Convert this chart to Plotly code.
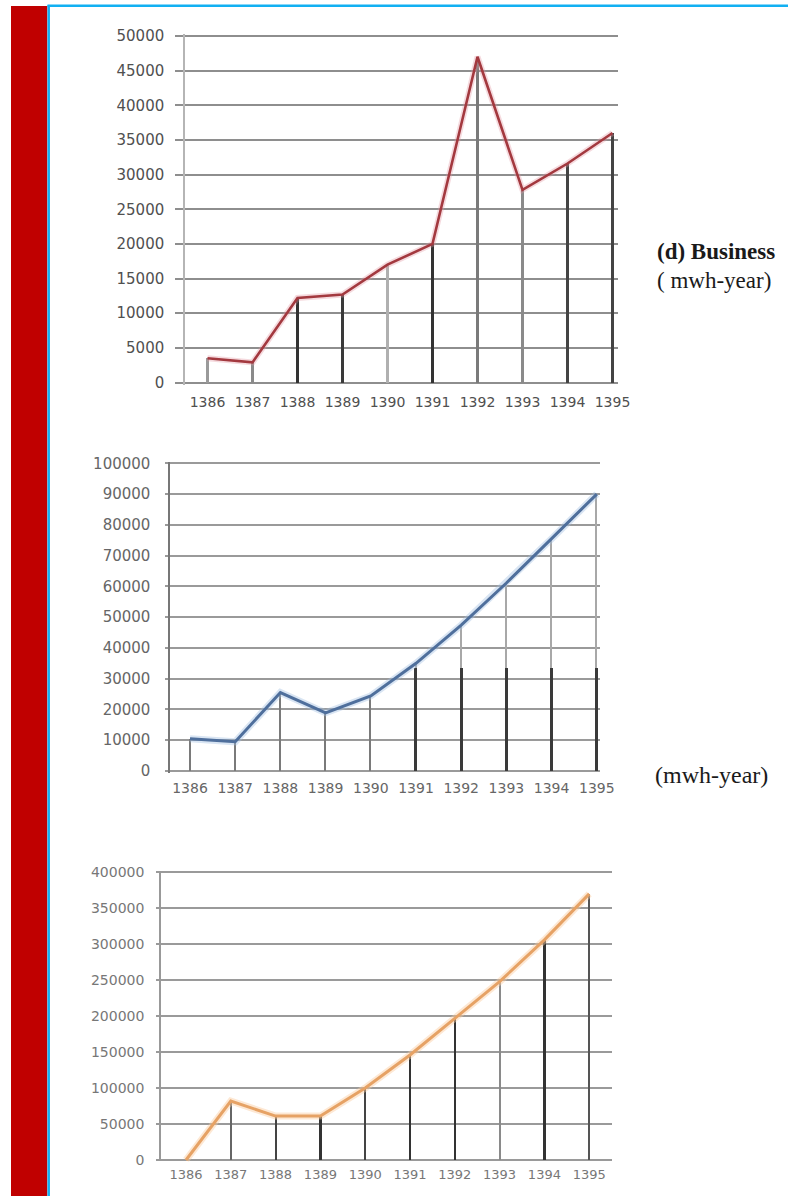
import plotly.graph_objects as go

# ---- data -------------------------------------------------------------
years = ["1386", "1387", "1388", "1389", "1390", "1391", "1392", "1393", "1394", "1395"]

business = [3500, 2900, 12200, 12700, 17000, 20000, 47000, 27800, 31600, 36000]
series_b = [10500, 9500, 25500, 18900, 24400, 35000, 47400, 61100, 75500, 90000]
series_c = [0, 82000, 61000, 61000, 100000, 146000, 197000, 248000, 306000, 370000]

ticks_business = list(range(0, 50001, 5000))
ticks_b = list(range(0, 100001, 10000))
ticks_c = list(range(0, 400001, 50000))

# lower, heavier part of the later stems in the middle panel
stem_split_b = 33500

# ---- page geometry ----------------------------------------------------
W, H = 788, 1196
idx = list(range(len(years)))


def xdom(first_px, step_px, lo, hi):
    return [(first_px + lo * step_px) / W, (first_px + hi * step_px) / W]


def ydom(zero_px, top_px, top_val, lo, hi):
    k = (zero_px - top_px) / top_val
    return [1 - (zero_px - lo * k) / H, 1 - (zero_px - hi * k) / H]


fig = go.Figure()

# ---- panel 1 : Business ----------------------------------------------
stem_cols_1 = ["#9a9a9a", "#8a8a8a", "#333333", "#3a3a3a", "#b0b0b0",
               "#333333", "#7a7a7a", "#8a8a8a", "#444444", "#444444"]
fig.add_trace(go.Bar(x=idx, y=business, width=0.045, marker=dict(color=stem_cols_1, line_width=0),
                     xaxis="x", yaxis="y", showlegend=False))
fig.add_trace(go.Scatter(x=idx, y=business, mode="lines", line=dict(color="rgba(225,150,160,0.35)", width=6),
                         xaxis="x", yaxis="y", showlegend=False, hoverinfo="skip"))
fig.add_trace(go.Scatter(x=idx, y=business, mode="lines", line=dict(color="#a3393f", width=2.6),
                         xaxis="x", yaxis="y", showlegend=False))

# ---- panel 2 -----------------------------------------------------------
stem_cols_2 = ["#7a7a7a"] * 5 + ["#a8a8a8"] * 5
fig.add_trace(go.Bar(x=idx, y=series_b, width=0.035, marker=dict(color=stem_cols_2, line_width=0),
                     xaxis="x2", yaxis="y2", showlegend=False))
late = [i for i, v in zip(idx, series_b) if v > stem_split_b]
fig.add_trace(go.Bar(x=late, y=[stem_split_b] * len(late), width=0.07,
                     marker=dict(color="#3a3a3a", line_width=0),
                     xaxis="x2", yaxis="y2", showlegend=False, hoverinfo="skip"))
fig.add_trace(go.Scatter(x=idx, y=series_b, mode="lines", line=dict(color="rgba(160,190,225,0.4)", width=7),
                         xaxis="x2", yaxis="y2", showlegend=False, hoverinfo="skip"))
fig.add_trace(go.Scatter(x=idx, y=series_b, mode="lines", line=dict(color="#4f6f9c", width=3),
                         xaxis="x2", yaxis="y2", showlegend=False))

# ---- panel 3 -----------------------------------------------------------
stem_cols_3 = ["#555555", "#666666", "#444444", "#333333", "#444444",
               "#333333", "#333333", "#8a8a8a", "#333333", "#555555"]
fig.add_trace(go.Bar(x=idx, y=series_c, width=0.05, marker=dict(color=stem_cols_3, line_width=0),
                     xaxis="x3", yaxis="y3", showlegend=False))
fig.add_trace(go.Scatter(x=idx, y=series_c, mode="lines", line=dict(color="rgba(250,205,160,0.45)", width=7),
                         xaxis="x3", yaxis="y3", showlegend=False, hoverinfo="skip"))
fig.add_trace(go.Scatter(x=idx, y=series_c, mode="lines", line=dict(color="#e6a265", width=3),
                         xaxis="x3", yaxis="y3", showlegend=False))


# ---- axes --------------------------------------------------------------
def x_axis(domain, rng, anchor, color, standoff, size):
    return dict(domain=domain, range=rng, anchor=anchor, tickmode="array", tickvals=idx, ticktext=years,
                showgrid=False, zeroline=False, showline=False, ticks="", automargin=False,
                tickfont=dict(family="DejaVu Sans", size=size, color=color),
                ticklabelstandoff=standoff, fixedrange=True)


def y_axis(domain, rng, anchor, vals, grid, axis_col, ticklen, color, standoff, size):
    return dict(domain=domain, range=rng, anchor=anchor, tickmode="array", tickvals=vals,
                ticktext=[str(v) for v in vals],
                showgrid=True, gridcolor=grid, gridwidth=1.5, zeroline=False,
                showline=True, linecolor=axis_col, linewidth=1.5, automargin=False,
                ticks="outside", ticklen=ticklen, tickcolor=grid, tickwidth=1.5,
                tickfont=dict(family="DejaVu Sans", size=size, color=color),
                ticklabelstandoff=standoff, fixedrange=True)


# panel 1
r1x = [-0.5, 9.13]
r1y = [-400, 50300]
fig.update_layout(
    xaxis=x_axis(xdom(207.5, 45.0, *r1x), r1x, "y", "#505050", 7, 14),
    yaxis=y_axis(ydom(382.5, 36.0, 50000, *r1y), r1y, "x", ticks_business, "#8e8e8e", "#b5b5b5", 8,
                 "#505050", 8, 15),
)

# panel 2
r2x = [-0.44, 9.07]
r2y = [-700, 100500]
fig.update_layout(
    xaxis2=x_axis(xdom(190.0, 45.2, *r2x), r2x, "y2", "#666666", 5, 14),
    yaxis2=y_axis(ydom(771.0, 463.3, 100000, *r2y), r2y, "x2", ticks_b, "#9a9a9a", "#777777", 3,
                  "#666666", 12, 15),
)

# panel 3
r3x = [-0.56, 9.5]
r3y = [-2000, 401500]
fig.update_layout(
    xaxis3=x_axis(xdom(186.0, 44.8, *r3x), r3x, "y3", "#777777", 4, 13),
    yaxis3=y_axis(ydom(1160.0, 872.3, 400000, *r3y), r3y, "x3", ticks_c, "#9a9a9a", "#999999", 3,
                  "#777777", 9, 14),
)

# ---- frame: red side band and blue rule --------------------------------
shapes = [
    dict(type="rect", xref="paper", yref="paper", x0=11 / W, x1=47.3 / W, y0=0, y1=1 - 6 / H,
         fillcolor="#c00000", line_width=0, layer="above"),
    dict(type="line", xref="paper", yref="paper", x0=48.7 / W, x1=48.7 / W, y0=0, y1=1 - 5 / H,
         line=dict(color="#12b0f2", width=2.5), layer="above"),
    dict(type="line", xref="paper", yref="paper", x0=47.5 / W, x1=1, y0=1 - 5.8 / H, y1=1 - 5.8 / H,
         line=dict(color="#12b0f2", width=2.5), layer="above"),
]

serif = "Liberation Serif"
annotations = [
    dict(text="<b>(d) Business</b>", x=655 / W, y=1 - 252 / H, xref="paper", yref="paper",
         xanchor="left", yanchor="middle", showarrow=False, font=dict(family=serif, size=23, color="#1a1a1a")),
    dict(text="( mwh-year)", x=655 / W, y=1 - 280 / H, xref="paper", yref="paper",
         xanchor="left", yanchor="middle", showarrow=False, font=dict(family=serif, size=23, color="#1a1a1a")),
    dict(text="(mwh-year)", x=653 / W, y=1 - 775 / H, xref="paper", yref="paper",
         xanchor="left", yanchor="middle", showarrow=False, font=dict(family=serif, size=24, color="#1a1a1a")),
]

fig.update_layout(
    width=W, height=H, margin=dict(l=0, r=0, t=0, b=0, pad=0, autoexpand=False),
    paper_bgcolor="white", plot_bgcolor="white",
    barmode="overlay", bargap=0, showlegend=False,
    shapes=shapes, annotations=annotations,
)

fig.write_html("out.html", config={"displayModeBar": False})
